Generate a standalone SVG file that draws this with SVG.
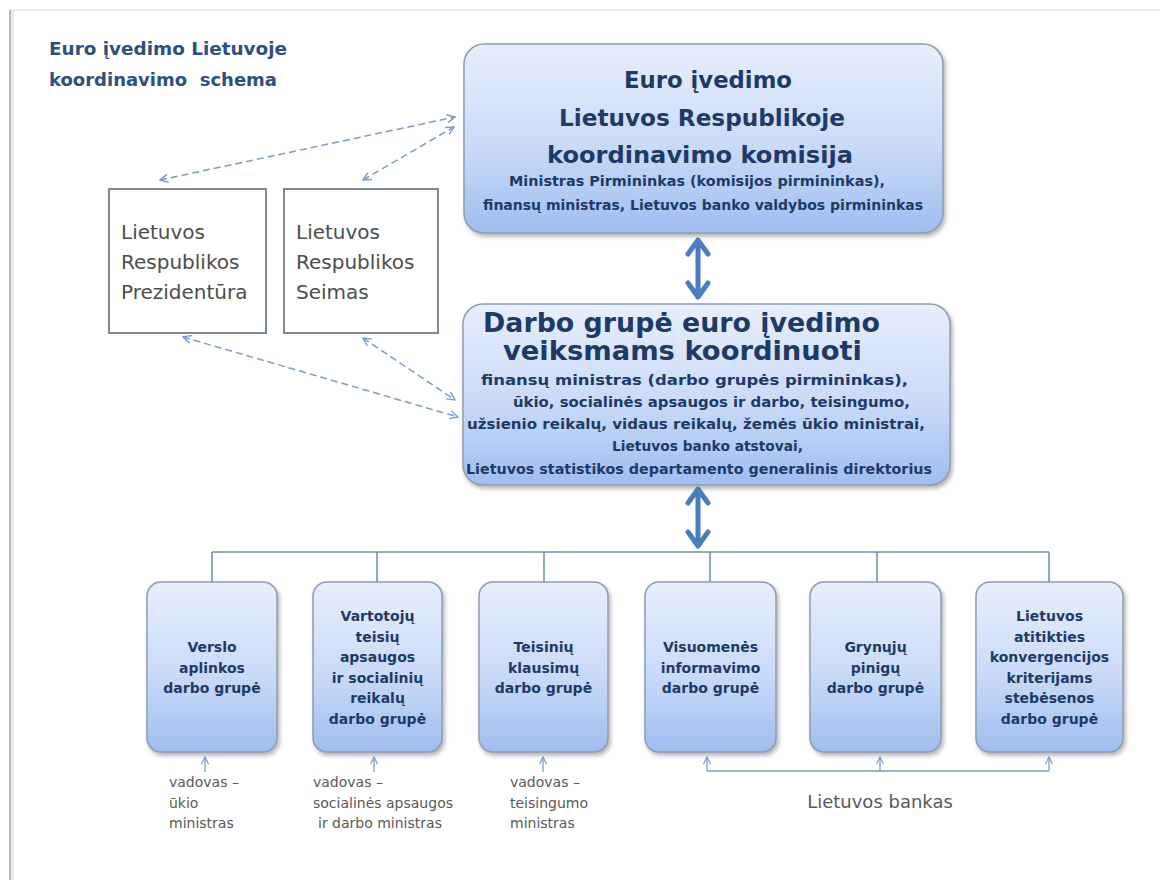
<svg xmlns="http://www.w3.org/2000/svg" width="1160" height="880" viewBox="0 0 1160 880">
<defs>
<linearGradient id="boxGrad" x1="0" y1="0" x2="0" y2="1">
<stop offset="0" stop-color="#e8effd"/>
<stop offset="0.55" stop-color="#c9daf8"/>
<stop offset="1" stop-color="#9fbdf0"/>
</linearGradient>
<filter id="shadow" x="-10%" y="-10%" width="125%" height="130%">
<feDropShadow dx="2" dy="3" stdDeviation="2" flood-color="#7a7a7a" flood-opacity="0.55"/>
</filter>
<marker id="openHead" viewBox="0 0 10 10" refX="9" refY="5" markerWidth="10" markerHeight="10" markerUnits="userSpaceOnUse" orient="auto-start-reverse">
<path d="M1,1 L9,5 L1,9" fill="none" stroke="#7b9bcc" stroke-width="1.4"/>
</marker>
<marker id="smallHead" viewBox="0 0 10 10" refX="9" refY="5" markerWidth="9" markerHeight="9" markerUnits="userSpaceOnUse" orient="auto">
<path d="M1,1 L9,5 L1,9" fill="none" stroke="#7b9bcc" stroke-width="1.3"/>
</marker>
</defs>
<style>
.bigbox{fill:url(#boxGrad);stroke:#8e9db4;stroke-width:1.5;filter:url(#shadow);}
.smallbox{fill:url(#boxGrad);stroke:#8e9db4;stroke-width:1.5;filter:url(#shadow);}
.plainbox{fill:#ffffff;stroke:#7d8896;stroke-width:2;}
.head{font-family:"DejaVu Sans","Liberation Sans",sans-serif;font-weight:bold;fill:#1e3b68;}
.sub{font-family:"DejaVu Sans","Liberation Sans",sans-serif;font-weight:bold;fill:#1e3b68;}
.boxtxt{font-family:"DejaVu Sans","Liberation Sans",sans-serif;font-weight:bold;font-size:14px;fill:#1e3b68;text-anchor:middle;}
.plain{font-family:"DejaVu Sans","Liberation Sans",sans-serif;font-size:20px;fill:#4d4d4d;}
.lbl{font-family:"DejaVu Sans","Liberation Sans",sans-serif;font-size:14px;fill:#595959;}
.title{font-family:"DejaVu Sans","Liberation Sans",sans-serif;font-weight:bold;font-size:18px;fill:#2d5083;}
.dash{fill:none;stroke:#7b9bcc;stroke-width:1.5;stroke-dasharray:7 4;marker-start:url(#openHead);marker-end:url(#openHead);}
.bus{fill:none;stroke:#6d8cb8;stroke-width:1.5;}
.thin{fill:none;stroke:#7b9bcc;stroke-width:1.3;}
.thick{fill:none;stroke:#4a7dc0;stroke-width:5;stroke-linecap:round;stroke-linejoin:round;}
</style>
<rect x="0" y="0" width="1160" height="880" fill="#ffffff"/>
<g id="frame">
<line x1="10" y1="10" x2="1160" y2="10" stroke="#dcdcdc" stroke-width="1.2"/>
<line x1="10" y1="10" x2="10" y2="880" stroke="#b8b8b8" stroke-width="2"/>
<line x1="12.5" y1="10" x2="12.5" y2="880" stroke="#e2e2e2" stroke-width="2"/>
</g>
<g id="title">
<text class="title" x="49" y="55" textLength="238" lengthAdjust="spacingAndGlyphs">Euro įvedimo Lietuvoje</text>
<text class="title" x="49" y="86" textLength="228" lengthAdjust="spacingAndGlyphs" xml:space="preserve">koordinavimo  schema</text>
</g>
<g id="connectors">
<path class="dash" d="M160,180 L455,117"/>
<path class="dash" d="M363,180 L454,127"/>
<path class="dash" d="M183,337 L458,417"/>
<path class="dash" d="M363,338 L455,400"/>
<path class="thick" d="M698,241 V296 M688,254 L698,240 L708,254 M688,283 L698,297 L708,283"/>
<path class="thick" d="M698,490 V545 M688,503 L698,489 L708,503 M688,532 L698,546 L708,532"/>
<path class="bus" d="M212,552 H1049 M212,552 V582 M377,552 V582 M544,552 V582 M710,552 V582 M877,552 V582 M1049,552 V582"/>
<path class="thin" d="M205,772 V757" marker-end="url(#smallHead)"/>
<path class="thin" d="M374,772 V757" marker-end="url(#smallHead)"/>
<path class="thin" d="M543,772 V757" marker-end="url(#smallHead)"/>
<path class="thin" d="M707,771 H1049"/>
<path class="thin" d="M707,771 V757" marker-end="url(#smallHead)"/>
<path class="thin" d="M880,771 V757" marker-end="url(#smallHead)"/>
<path class="thin" d="M1049,771 V757" marker-end="url(#smallHead)"/>
</g>
<g id="komisija">
<rect class="bigbox" x="464" y="44" width="479" height="189" rx="20"/>
<text class="head" font-size="23" x="624" y="88" textLength="168" lengthAdjust="spacingAndGlyphs">Euro įvedimo</text>
<text class="head" font-size="23" x="559" y="126" textLength="286" lengthAdjust="spacingAndGlyphs">Lietuvos Respublikoje</text>
<text class="head" font-size="23" x="547" y="163" textLength="306" lengthAdjust="spacingAndGlyphs">koordinavimo komisija</text>
<text class="sub" font-size="13.5" x="509" y="186" textLength="376" lengthAdjust="spacingAndGlyphs">Ministras Pirmininkas (komisijos pirmininkas),</text>
<text class="sub" font-size="13.5" x="483" y="210" textLength="440" lengthAdjust="spacingAndGlyphs">finansų ministras, Lietuvos banko valdybos pirmininkas</text>
</g>
<g id="darbo-grupe">
<rect class="bigbox" x="463" y="304" width="487" height="181" rx="20"/>
<text class="head" font-size="26" x="483" y="332" textLength="397" lengthAdjust="spacingAndGlyphs">Darbo grupė euro įvedimo</text>
<text class="head" font-size="26" x="503" y="360" textLength="359" lengthAdjust="spacingAndGlyphs">veiksmams koordinuoti</text>
<text class="sub" font-size="14" x="481" y="385" textLength="427" lengthAdjust="spacingAndGlyphs">finansų ministras (darbo grupės pirmininkas),</text>
<text class="sub" font-size="14" x="513" y="407" textLength="397" lengthAdjust="spacingAndGlyphs">ūkio, socialinės apsaugos ir darbo, teisingumo,</text>
<text class="sub" font-size="14" x="467" y="429" textLength="458" lengthAdjust="spacingAndGlyphs">užsienio reikalų, vidaus reikalų, žemės ūkio ministrai,</text>
<text class="sub" font-size="14" x="612" y="451" textLength="191" lengthAdjust="spacingAndGlyphs">Lietuvos banko atstovai,</text>
<text class="sub" font-size="14" x="466" y="474" textLength="466" lengthAdjust="spacingAndGlyphs">Lietuvos statistikos departamento generalinis direktorius</text>
</g>
<g id="prezidentura">
<rect class="plainbox" x="109" y="189" width="157" height="144"/>
<text class="plain" x="121" y="239">Lietuvos</text>
<text class="plain" x="121" y="269">Respublikos</text>
<text class="plain" x="121" y="299">Prezidentūra</text>
</g>
<g id="seimas">
<rect class="plainbox" x="284" y="189" width="154" height="144"/>
<text class="plain" x="296" y="239">Lietuvos</text>
<text class="plain" x="296" y="269">Respublikos</text>
<text class="plain" x="296" y="299">Seimas</text>
</g>
<g id="verslo">
<rect class="smallbox" x="147" y="582" width="130" height="170" rx="14"/>
<text class="boxtxt" x="212" y="652">Verslo</text>
<text class="boxtxt" x="212" y="672.5">aplinkos</text>
<text class="boxtxt" x="212" y="693">darbo grupė</text>
</g>
<g id="vartotoju">
<rect class="smallbox" x="313" y="582" width="129" height="170" rx="14"/>
<text class="boxtxt" x="377.5" y="621">Vartotojų</text>
<text class="boxtxt" x="377.5" y="641.5">teisių</text>
<text class="boxtxt" x="377.5" y="662">apsaugos</text>
<text class="boxtxt" x="377.5" y="682.5">ir socialinių</text>
<text class="boxtxt" x="377.5" y="703">reikalų</text>
<text class="boxtxt" x="377.5" y="723.5">darbo grupė</text>
</g>
<g id="teisiniu">
<rect class="smallbox" x="479" y="582" width="129" height="170" rx="14"/>
<text class="boxtxt" x="543.5" y="652">Teisinių</text>
<text class="boxtxt" x="543.5" y="672.5">klausimų</text>
<text class="boxtxt" x="543.5" y="693">darbo grupė</text>
</g>
<g id="visuomenes">
<rect class="smallbox" x="645" y="582" width="131" height="170" rx="14"/>
<text class="boxtxt" x="710.5" y="652">Visuomenės</text>
<text class="boxtxt" x="710.5" y="672.5">informavimo</text>
<text class="boxtxt" x="710.5" y="693">darbo grupė</text>
</g>
<g id="grynuju">
<rect class="smallbox" x="810" y="582" width="131" height="170" rx="14"/>
<text class="boxtxt" x="875.5" y="652">Grynųjų</text>
<text class="boxtxt" x="875.5" y="672.5">pinigų</text>
<text class="boxtxt" x="875.5" y="693">darbo grupė</text>
</g>
<g id="atitikties">
<rect class="smallbox" x="976" y="582" width="147" height="170" rx="14"/>
<text class="boxtxt" x="1049.5" y="621">Lietuvos</text>
<text class="boxtxt" x="1049.5" y="641.5">atitikties</text>
<text class="boxtxt" x="1049.5" y="662">konvergencijos</text>
<text class="boxtxt" x="1049.5" y="682.5">kriterijams</text>
<text class="boxtxt" x="1049.5" y="703">stebėsenos</text>
<text class="boxtxt" x="1049.5" y="723.5">darbo grupė</text>
</g>
<g id="label-ukio">
<text class="lbl" x="169" y="787">vadovas –</text>
<text class="lbl" x="169" y="807.5">ūkio</text>
<text class="lbl" x="169" y="828">ministras</text>
</g>
<g id="label-socialines">
<text class="lbl" x="313" y="787">vadovas –</text>
<text class="lbl" x="313" y="807.5">socialinės apsaugos</text>
<text class="lbl" x="318" y="828">ir darbo ministras</text>
</g>
<g id="label-teisingumo">
<text class="lbl" x="510" y="787">vadovas –</text>
<text class="lbl" x="510" y="807.5">teisingumo</text>
<text class="lbl" x="510" y="828">ministras</text>
</g>
<g id="label-bankas">
<text class="lbl" font-size="18" x="880" y="808" text-anchor="middle" style="font-size:18px">Lietuvos bankas</text>
</g>
</svg>
